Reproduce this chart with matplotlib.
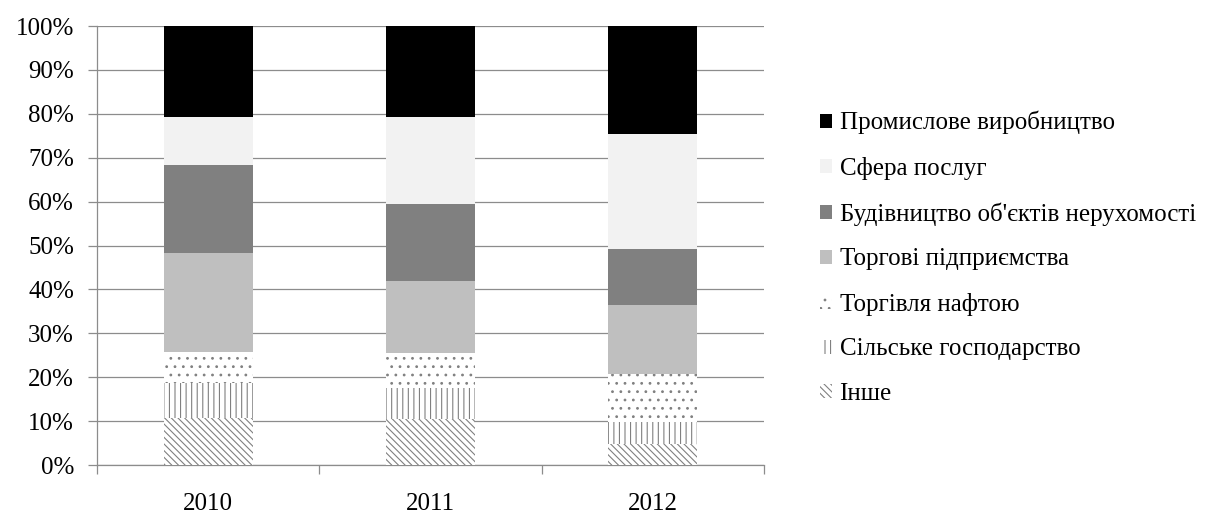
import matplotlib
matplotlib.use("Agg")
import matplotlib.pyplot as plt
from matplotlib.ticker import FixedLocator, PercentFormatter

plt.rcParams["font.family"] = ["Liberation Serif", "DejaVu Serif"]
plt.rcParams["hatch.color"] = "#808080"
plt.rcParams["hatch.linewidth"] = 0.8

years = ["2010", "2011", "2012"]

# Shares of each sector, % (bottom of the stack first)
other = [10.6, 10.4, 4.7]
agriculture = [8.0, 7.1, 5.2]
oil_trade = [7.1, 7.9, 10.8]
trade = [22.5, 16.6, 15.7]
construction = [20.1, 17.4, 12.9]
services = [11.0, 19.9, 26.0]
industry = [20.7, 20.7, 24.7]

series = [
    ("Інше", other, "white", "\\\\\\\\\\"),
    ("Сільське господарство", agriculture, "white", "|||"),
    ("Торгівля нафтою", oil_trade, "white", ".."),
    ("Торгові підприємства", trade, "#bfbfbf", None),
    ("Будівництво об'єктів нерухомості", construction, "#808080", None),
    ("Сфера послуг", services, "#f2f2f2", None),
    ("Промислове виробництво", industry, "#000000", None),
]

fs = 18

fig = plt.figure(figsize=(12.29, 5.14), dpi=100)
ax = fig.add_axes([97 / 1229, 49 / 514, 667 / 1229, 439 / 514])

x = list(range(len(years)))
bottom = [0.0] * len(years)
handles = []
for label, vals, color, hatch in series:
    bars = ax.bar(x, vals, width=0.4, bottom=bottom, color=color,
                  hatch=hatch, edgecolor="#808080" if hatch else color,
                  linewidth=0, label=label, zorder=3)
    handles.append(bars)
    bottom = [b + v for b, v in zip(bottom, vals)]

ax.set_xlim(-0.5, len(years) - 0.5)
ax.set_ylim(0, 100)
ax.yaxis.set_major_locator(FixedLocator(range(0, 101, 10)))
ax.yaxis.set_major_formatter(PercentFormatter(decimals=0))
ax.grid(axis="y", color="#8c8c8c", linewidth=0.9, zorder=0)
ax.tick_params(axis="y", direction="out", length=6.5, width=0.9,
               color="#8c8c8c", pad=10, labelsize=fs)

ax.set_xticks(x)
ax.set_xticklabels(years)
ax.set_xticks([i - 0.5 for i in range(len(years) + 1)], minor=True)
ax.tick_params(axis="x", which="major", length=0, pad=20, labelsize=fs)
ax.tick_params(axis="x", which="minor", direction="out", length=6.5,
               width=0.9, color="#8c8c8c")

for side in ("top", "right"):
    ax.spines[side].set_visible(False)
for side in ("left", "bottom"):
    ax.spines[side].set_color("#8c8c8c")
    ax.spines[side].set_linewidth(0.9)

leg = fig.legend(handles[::-1], [s[0] for s in series][::-1],
                 loc="upper left", bbox_to_anchor=(820 / 1229, 1 - 111 / 514),
                 frameon=False, fontsize=fs, handlelength=0.48,
                 handleheight=0.48, handletextpad=0.3, labelspacing=0.9,
                 borderaxespad=0, borderpad=0)

fig.savefig("out.png", dpi=100)
